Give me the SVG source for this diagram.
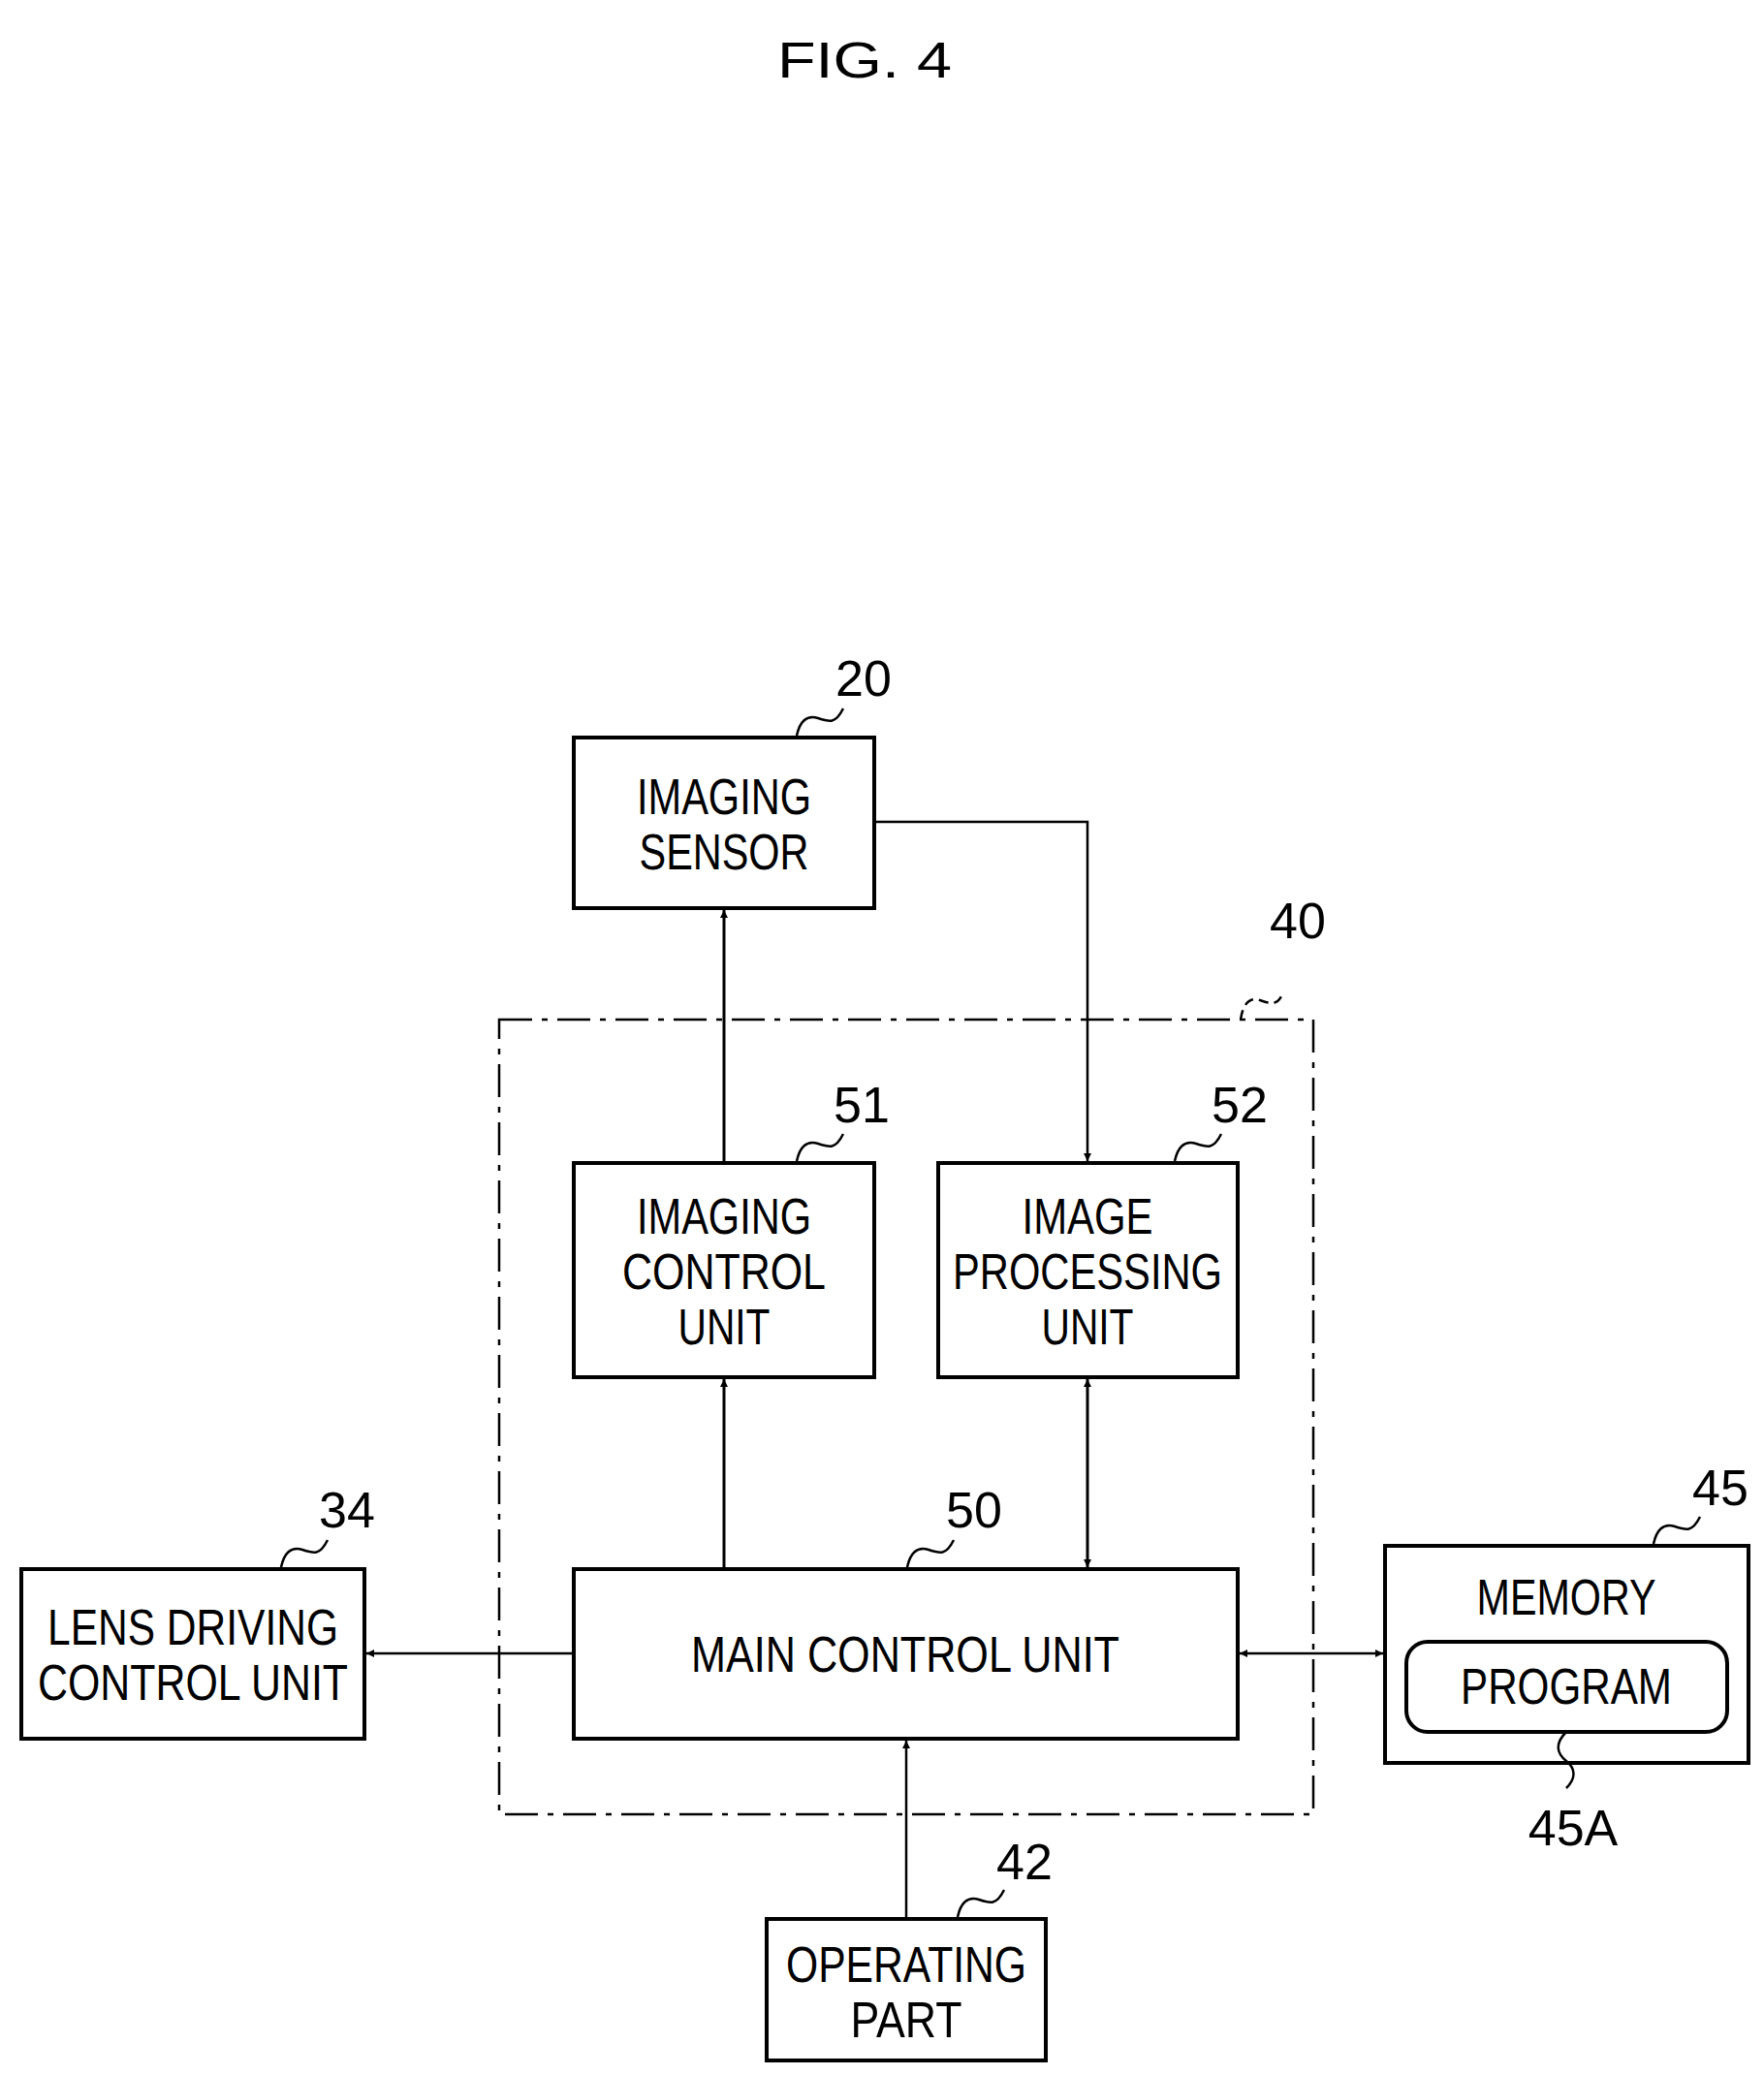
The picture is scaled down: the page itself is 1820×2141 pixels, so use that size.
<svg xmlns="http://www.w3.org/2000/svg" width="1820" height="2141" viewBox="0 0 1820 2141">
<defs>
<style>
.b{fill:#fff;stroke:#000;stroke-width:4}
.t{font-family:"Liberation Sans",Arial,sans-serif;font-size:52px;text-anchor:middle;fill:#000}
.l{fill:none;stroke:#000;stroke-width:3}
.w{fill:none;stroke:#000;stroke-width:2.5}
</style>
<marker id="a" viewBox="0 0 10 10" refX="10" refY="5" markerWidth="8" markerHeight="8" markerUnits="userSpaceOnUse" orient="auto-start-reverse"><path d="M0,0L10,5L0,10z"/></marker>
</defs>
<rect width="1820" height="2141" fill="#fff"/>
<text class="t" x="892" y="80" font-size="64" textLength="180" lengthAdjust="spacingAndGlyphs">FIG. 4</text>
<g id="n40"><rect x="515" y="1052" width="840" height="820" fill="none" stroke="#000" stroke-width="2.5" stroke-dasharray="34,10,6,10"/><path class="w" d="M1280,1052c2,-14 8,-24 20,-20s18,6 24,-8" stroke-dasharray="10,6"/><text class="t" x="1339" y="968">40</text></g>
<g id="n20"><rect class="b" x="592" y="761" width="310" height="176"/><text class="t" x="747" y="840" textLength="180" lengthAdjust="spacingAndGlyphs">IMAGING</text><text class="t" x="747" y="897" textLength="175" lengthAdjust="spacingAndGlyphs">SENSOR</text><path class="w" d="M822,759c3,-14 10,-22 22,-18s18,6 26,-10"/><text class="t" x="891" y="718">20</text></g>
<g id="n51"><rect class="b" x="592" y="1200" width="310" height="221"/><text class="t" x="747" y="1273" textLength="180" lengthAdjust="spacingAndGlyphs">IMAGING</text><text class="t" x="747" y="1330" textLength="210" lengthAdjust="spacingAndGlyphs">CONTROL</text><text class="t" x="747" y="1387" textLength="95" lengthAdjust="spacingAndGlyphs">UNIT</text><path class="w" d="M822,1198c3,-14 10,-22 22,-18s18,6 26,-10"/><text class="t" x="889" y="1158">51</text></g>
<g id="n52"><rect class="b" x="968" y="1200" width="309" height="221"/><text class="t" x="1122" y="1273" textLength="135" lengthAdjust="spacingAndGlyphs">IMAGE</text><text class="t" x="1122" y="1330" textLength="278" lengthAdjust="spacingAndGlyphs">PROCESSING</text><text class="t" x="1122" y="1387" textLength="95" lengthAdjust="spacingAndGlyphs">UNIT</text><path class="w" d="M1212,1198c3,-14 10,-22 22,-18s18,6 26,-10"/><text class="t" x="1279" y="1158">52</text></g>
<g id="n50"><rect class="b" x="592" y="1619" width="685" height="175"/><text class="t" x="934" y="1725" textLength="442" lengthAdjust="spacingAndGlyphs">MAIN CONTROL UNIT</text><path class="w" d="M936,1617c3,-14 10,-22 22,-18s18,6 26,-10"/><text class="t" x="1005" y="1576">50</text></g>
<g id="n34"><rect class="b" x="22" y="1619" width="354" height="175"/><text class="t" x="199" y="1697" textLength="300" lengthAdjust="spacingAndGlyphs">LENS DRIVING</text><text class="t" x="199" y="1754" textLength="320" lengthAdjust="spacingAndGlyphs">CONTROL UNIT</text><path class="w" d="M290,1617c3,-14 10,-22 22,-18s18,6 26,-10"/><text class="t" x="358" y="1576">34</text></g>
<g id="n45"><rect class="b" x="1429" y="1595" width="375" height="224"/><text class="t" x="1616" y="1666" textLength="185" lengthAdjust="spacingAndGlyphs">MEMORY</text><rect class="b" x="1451" y="1694" width="331" height="93" rx="22"/><text class="t" x="1616" y="1758" textLength="218" lengthAdjust="spacingAndGlyphs">PROGRAM</text><path class="w" d="M1706,1593c3,-14 10,-22 22,-18s18,6 26,-10"/><text class="t" x="1775" y="1553">45</text><path class="w" d="M1616,1787c-12,12 -10,22 0,30s10,18 0,28"/><text class="t" x="1623" y="1904">45A</text></g>
<g id="n42"><rect class="b" x="791" y="1980" width="288" height="146"/><text class="t" x="935" y="2045" textLength="248" lengthAdjust="spacingAndGlyphs">OPERATING</text><text class="t" x="935" y="2102" textLength="115" lengthAdjust="spacingAndGlyphs">PART</text><path class="w" d="M988,1978c3,-14 10,-22 22,-18s18,6 26,-10"/><text class="t" x="1057" y="1939">42</text></g>
<g id="connectors">
<path class="l" d="M747,1200V939" marker-end="url(#a)"/>
<path class="w" d="M902,848H1122V1198" marker-end="url(#a)"/>
<path class="l" d="M747,1619V1423" marker-end="url(#a)"/>
<path class="l" d="M1122,1617V1423" marker-start="url(#a)" marker-end="url(#a)"/>
<path class="w" d="M592,1706H378" marker-end="url(#a)"/>
<path class="w" d="M1279,1706H1427" marker-start="url(#a)" marker-end="url(#a)"/>
<path class="w" d="M935,1980V1796" marker-end="url(#a)"/>
</g>
</svg>
